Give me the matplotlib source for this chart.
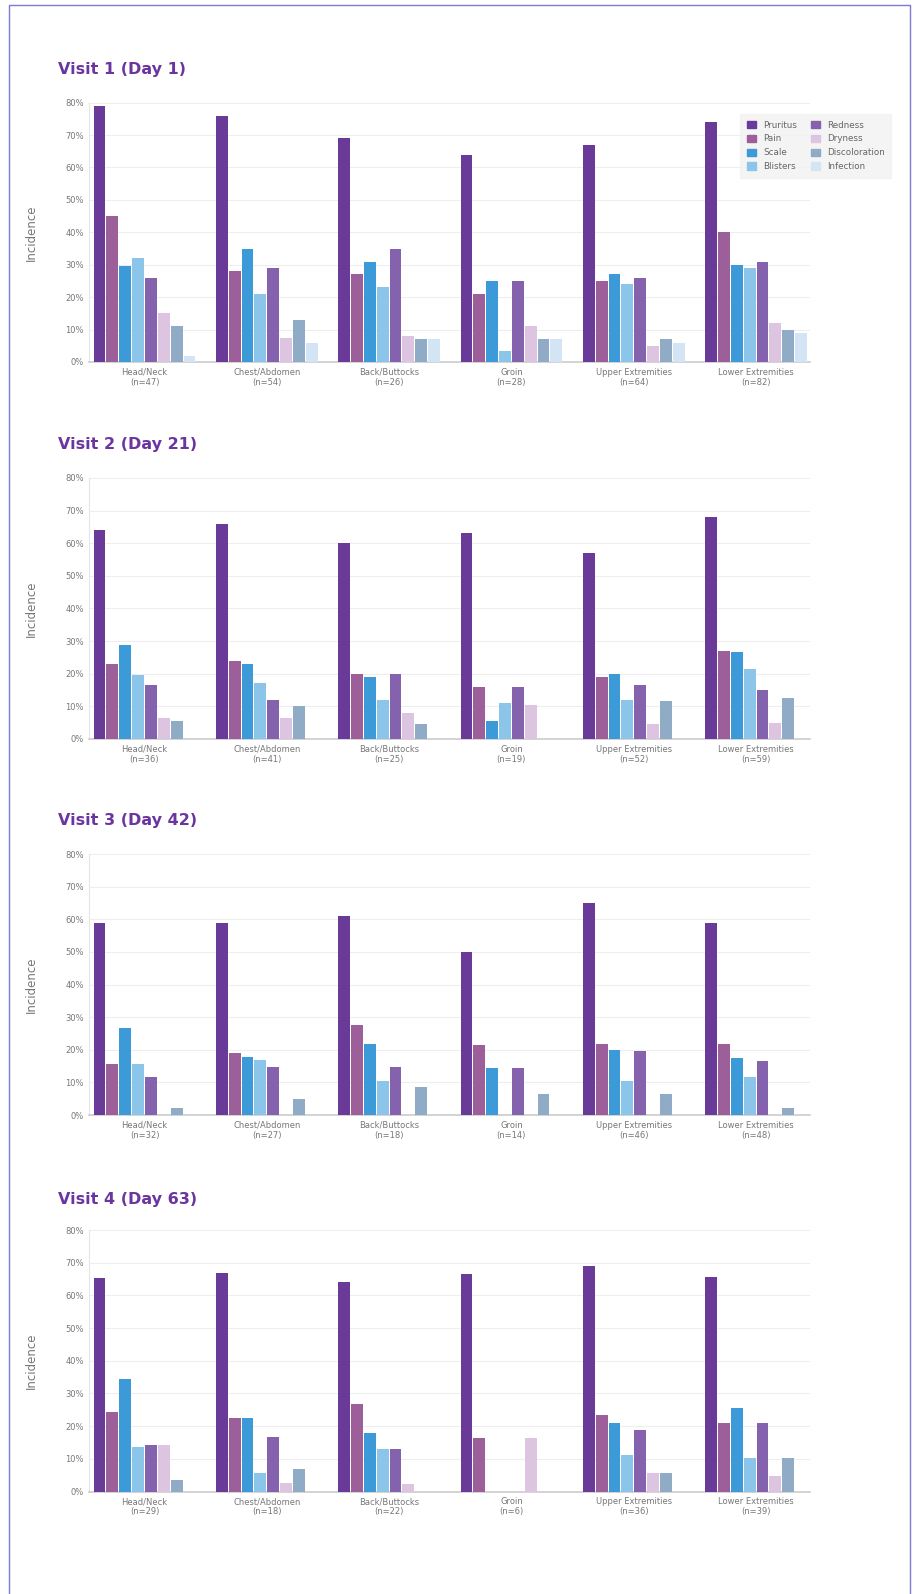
import matplotlib.pyplot as plt
import numpy as np
from matplotlib.lines import Line2D
from matplotlib.patches import Patch

# regions and visits
regions = ["Head/Neck", "Chest/Abdomen", "Back/Buttocks", "Groin", "Upper Extremities", "Lower Extremities"]
visits = ["Visit 1 (Day 1)", "Visit 2 (Day 21)", "Visit 3 (Day 42)", "Visit 4 (Day 63)"]
symptoms = ["Pruritus", "Pain", "Scale", "Blisters", "Redness", "Dryness", "Discoloration", "Infection"]

n_v1 = [47, 54, 26, 28, 64, 82]
n_v2 = [36, 41, 25, 19, 52, 59]
n_v3 = [32, 27, 18, 14, 46, 48]
n_v4 = [29, 18, 22, 6, 36, 39]

# incidence (%) per region, one list per symptom
v1 = [
    [79, 76, 69, 64, 67, 74],
    [45, 28, 27, 21, 25, 40],
    [29.5, 35, 31, 25, 27, 30],
    [32, 21, 23, 3.5, 24, 29],
    [26, 29, 35, 25, 26, 31],
    [15, 7.5, 8, 11, 5, 12],
    [11, 13, 7, 7, 7, 10],
    [2, 6, 7, 7, 6, 9],
]
v2 = [
    [64, 66, 60, 63, 57, 68],
    [23, 24, 20, 16, 19, 27],
    [28.7, 23, 19, 5.5, 20, 26.5],
    [19.6, 17, 12, 11, 12, 21.5],
    [16.5, 12, 20, 16, 16.5, 15],
    [6.5, 6.5, 8, 10.5, 4.7, 5],
    [5.6, 10, 4.7, 0, 11.5, 12.5],
    [0, 0, 0, 0, 0, 0],
]
v3 = [
    [59, 59, 61, 50, 65, 59],
    [15.6, 19, 27.7, 21.5, 21.8, 21.8],
    [26.8, 17.8, 21.8, 14.5, 20, 17.4],
    [15.6, 16.8, 10.3, 0, 10.3, 11.8],
    [11.5, 14.6, 14.6, 14.5, 19.6, 16.5],
    [0, 0, 0, 0, 0, 0],
    [2.2, 5, 8.7, 6.5, 6.5, 2.2],
    [0, 0, 0, 0, 0, 0],
]
v4 = [
    [65.4, 67, 64, 66.7, 69, 65.7],
    [24.3, 22.4, 26.8, 16.5, 23.4, 21],
    [34.3, 22.4, 17.8, 0, 21, 25.6],
    [13.7, 5.6, 13, 0, 11.2, 10.3],
    [14.3, 16.8, 13, 0, 18.7, 21],
    [14.3, 2.5, 2.2, 16.5, 5.6, 4.7],
    [3.4, 6.9, 0, 0, 5.6, 10.3],
    [0, 0, 0, 0, 0, 0],
]
panels = [(v1, n_v1), (v2, n_v2), (v3, n_v3), (v4, n_v4)]

colors = ["#6a3a99", "#9c5f9a", "#3d9ad8", "#8cc5ea", "#8462ad", "#ddc4e0", "#8fabc5", "#d3e4f4"]
purple = "#6b35a0"
grey = "#777777"

fig = plt.figure(figsize=(9.13, 15.94), dpi=100)

# border (left, top, right)
fig.add_artist(Line2D([0.0099, 0.0099, 0.9967, 0.9967], [0.0, 0.9968, 0.9968, 0.0],
                      color="#7d7ad6", lw=1.0, transform=fig.transFigure))

tops = [0.9356, 0.7002, 0.4642, 0.2283]
bottoms = [0.7729, 0.5364, 0.3005, 0.0643]
title_y = [0.9567, 0.7210, 0.4850, 0.2472]
x = np.arange(len(regions))
w = 0.105

for k, (data, ns) in enumerate(panels):
    ax = fig.add_axes([0.098, bottoms[k], 0.789, tops[k] - bottoms[k]])
    for i, s in enumerate(symptoms):
        ax.bar(x - 0.3675 + i * w, data[i], width=w * 0.92, color=colors[i], label=s, zorder=3)
    ax.set_xlim(-0.45, 5.44)
    ax.set_ylim(0, 80)
    ax.set_yticks(range(0, 81, 10))
    ax.set_yticklabels([f"{t}%" for t in range(0, 81, 10)])
    ax.set_xticks(x)
    ax.set_xticklabels([f"{r}\n(n={n})" for r, n in zip(regions, ns)])
    ax.tick_params(axis="both", labelsize=6, colors=grey, length=0, pad=4)
    ax.grid(axis="y", color="#eeeeee", lw=0.8, zorder=0)
    for sp in ["top", "right"]:
        ax.spines[sp].set_visible(False)
    ax.spines["left"].set_color("#e6e6e6")
    ax.spines["bottom"].set_color("#cccccc")
    ax.spines["bottom"].set_linewidth(1.2)
    ax.set_ylabel("Incidence", fontsize=8.5, color=grey, labelpad=20)
    fig.text(0.063, title_y[k], visits[k], fontsize=11.5, fontweight="bold", color=purple, va="center")
    if k == 0:
        handles = [Patch(color=c) for c in colors]
        leg = fig.legend(handles, symptoms, ncol=2, fontsize=6.3, loc="upper left",
                         bbox_to_anchor=(0.806, 0.9315), frameon=True, handlelength=1.0,
                         handleheight=0.9, columnspacing=1.6, labelspacing=0.55,
                         borderpad=0.8, fancybox=False)
        leg.get_frame().set_facecolor("#f2f2f2")
        leg.get_frame().set_edgecolor("#f2f2f2")
        for t in leg.get_texts():
            t.set_color("#666666")

fig.savefig("out.png", dpi=100)
